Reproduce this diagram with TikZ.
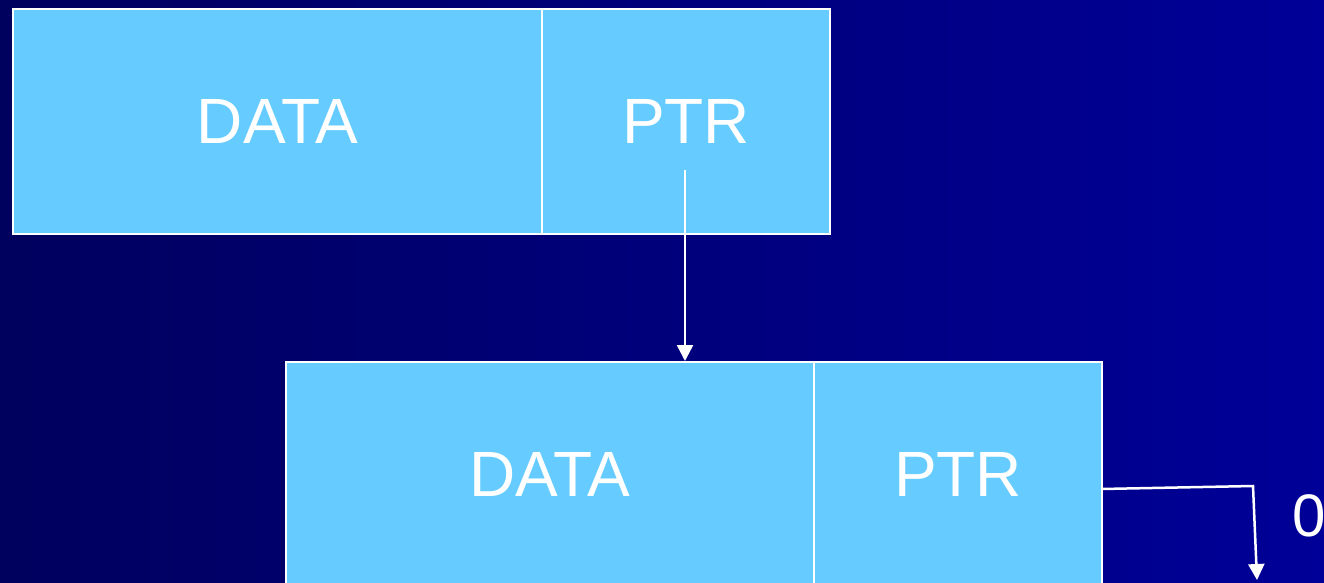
\documentclass[tikz,border=0pt]{standalone}
\usepackage{fontspec}
\setmainfont{Liberation Sans}
\usetikzlibrary{arrows.meta}
\definecolor{bgleft}{RGB}{0,0,94}
\definecolor{bgright}{RGB}{0,0,152}
\definecolor{cellfill}{RGB}{102,204,255}
\tikzset{
  cell/.style={draw=white, line width=2pt, fill=cellfill, text=white,
    minimum height=225pt, inner sep=0pt, anchor=north west,
    font=\fontsize{64}{72}\selectfont},
  link/.style={draw=white, line width=2.5pt,
    -{Triangle[width=16pt,length=16pt]}}
}
\begin{document}
\begin{tikzpicture}[x=1pt,y=1pt]
  \useasboundingbox (0,0) rectangle (1324,-582);
  \clip (0,0) rectangle (1324,-582);
  \shade[left color=bgleft, right color=bgright] (0,0) rectangle (1324,-582);

  % first list element
  \node[cell, minimum width=529pt] (d1) at (12,-8) {DATA};
  \node[cell, minimum width=288pt] (p1) at (541,-8) {PTR};

  % second list element
  \node[cell, minimum width=528pt] (d2) at (285,-361) {DATA};
  \node[cell, minimum width=288pt] (p2) at (813,-361) {PTR};

  % null terminator
  \node[text=white, font=\fontsize{60}{68}\selectfont, anchor=west, inner sep=0pt]
    (nul) at (1292,-516) {0};

  % pointer links
  \coordinate (s1) at (685,-170);
  \draw[link] (s1) -- (s1 |- d2.north);

  \coordinate (s2) at (1101,-489);
  \coordinate (k2) at (1253,-486);
  \coordinate (e2) at (1257,-580);
  \draw[link] (s2) -- (k2) -- (e2);
\end{tikzpicture}
\end{document}
